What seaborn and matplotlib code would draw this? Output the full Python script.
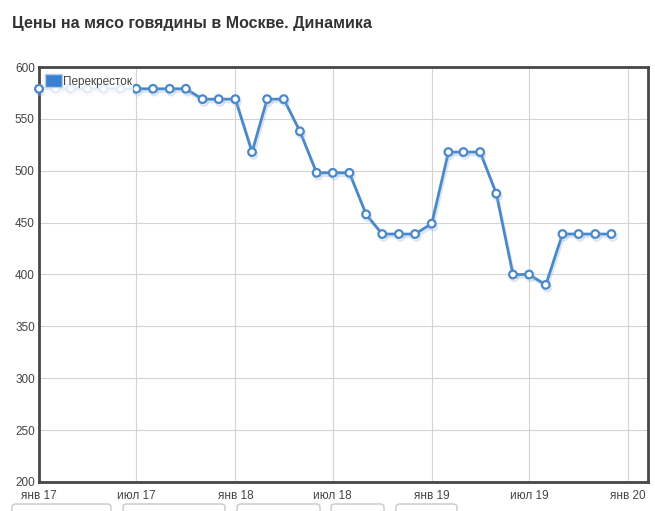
import matplotlib
matplotlib.use("Agg")
import matplotlib.pyplot as plt
import matplotlib.patheffects as pe
from matplotlib.patches import FancyBboxPatch, Patch, Rectangle
import seaborn as sns
import pandas as pd

title = "Цены на мясо говядины в Москве. Динамика"
series_name = "Перекресток"
months = pd.date_range("2017-01-01", "2019-12-01", freq="MS")
prices = [579, 579, 579, 579, 579, 579, 579, 579, 579, 579, 569, 569,
          569, 518, 569, 569, 538, 498, 498, 498, 458, 439, 439, 439,
          449, 518, 518, 518, 478, 400, 400, 390, 439, 439, 439, 439]
tick_dates = pd.to_datetime(["2017-01-01", "2017-07-01", "2018-01-01", "2018-07-01",
                             "2019-01-01", "2019-07-01", "2020-01-01"])
tick_labels = ["янв 17", "июл 17", "янв 18", "июл 18", "янв 19", "июл 19", "янв 20"]
y_ticks = [200, 250, 300, 350, 400, 450, 500, 550, 600]

df = pd.DataFrame({"date": months, "price": prices})

sns.set_theme(style="white")
plt.rcParams["font.family"] = ["Liberation Sans", "DejaVu Sans"]

W, H = 655, 511
fig = plt.figure(figsize=(W/100, H/100), dpi=100)
ax = fig.add_axes([39/W, 1-482/H, (648-39)/W, (482-67)/H])

color = "#4a88cc"
sns.lineplot(data=df, x="date", y="price", ax=ax, color=color, linewidth=2,
             marker="o", markersize=5.5, markerfacecolor="white",
             markeredgecolor=color, markeredgewidth=1.6, zorder=3,
             path_effects=[pe.SimpleLineShadow(offset=(1, -2), shadow_color="#9db8d8", alpha=0.35), pe.Normal()])
for ln in ax.get_lines():
    ln.set_clip_on(False)

ax.set_ylim(200, 600)
ax.set_xlim(pd.Timestamp("2017-01-01"), pd.Timestamp("2020-02-07"))
ax.set_yticks(y_ticks)
ax.set_xticks(tick_dates)
ax.set_xticklabels(tick_labels)
ax.tick_params(axis="both", length=0, labelsize=8.5, labelcolor="#444444")
ax.tick_params(axis="x", pad=6)
ax.tick_params(axis="y", pad=3)
ax.grid(True, color="#d3d3d3", linewidth=0.8)
ax.set_axisbelow(True)
ax.set_xlabel("")
ax.set_ylabel("")
for s in ax.spines.values():
    s.set_color("#474747")
    s.set_linewidth(2)
    s.set_zorder(2.5)

# translucent legend background
bg = Rectangle((44/W, 1-98/H), (133-44)/W, (98-70)/H, transform=fig.transFigure,
               facecolor="white", edgecolor="none", alpha=0.85, zorder=4)
ax.add_artist(bg)

handle = Patch(facecolor="#3a80d2", edgecolor="#b9cde6", linewidth=1)
leg = ax.legend([handle], [series_name], loc="upper left",
                bbox_to_anchor=(44/W, 1-73/H), bbox_transform=fig.transFigure,
                frameon=False, fontsize=8.5,
                handlelength=1.45, handleheight=1.3, handletextpad=0.1,
                borderpad=0.1, borderaxespad=0.0)
leg.set_zorder(5)
for t in leg.get_texts():
    t.set_color("#444444")

fig.text(12/W, 1-23/H, title, fontsize=11.5, fontweight="bold", color="#333333",
         va="center", ha="left")

for x0, x1 in [(12, 111), (123, 225), (237, 320), (331, 384), (396, 457)]:
    box = FancyBboxPatch((x0/W, 1-516/H), (x1-x0)/W, 12/H,
                         boxstyle="round,pad=0,rounding_size=0.006",
                         transform=fig.transFigure, facecolor="white",
                         edgecolor="#c8c8c8", linewidth=1, clip_on=False)
    fig.patches.append(box)

fig.savefig("out.png", dpi=100)
